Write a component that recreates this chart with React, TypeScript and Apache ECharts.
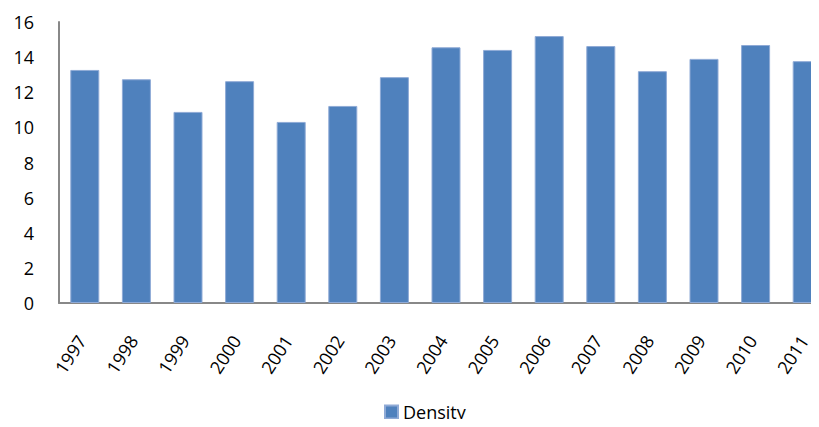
import React, { useEffect, useRef } from "react";
import * as echarts from "echarts";

const years = ["1997", "1998", "1999", "2000", "2001", "2002", "2003", "2004", "2005", "2006", "2007", "2008", "2009", "2010", "2011"];
const density = [13.27, 12.74, 10.88, 12.63, 10.31, 11.22, 12.86, 14.56, 14.41, 15.2, 14.63, 13.2, 13.9, 14.69, 13.77];
const seriesName = "Density";

const FONT = "'Open Sans', 'Noto Sans', sans-serif";

export default function App() {
  const ref = useRef<HTMLDivElement>(null);

  useEffect(() => {
    if (!ref.current) return;
    const chart = echarts.init(ref.current, undefined, { renderer: "svg" });
    chart.setOption({
      animation: false,
      backgroundColor: "#ffffff",
      // the plot runs a little past the right edge of the visible frame
      grid: { left: 59, top: 22, right: 7, bottom: 124, containLabel: false, outerBoundsMode: "none" },
      legend: {
        data: [seriesName],
        left: 384,
        top: 402,
        itemWidth: 13,
        itemHeight: 13,
        itemGap: 10,
        icon: "rect",
        padding: 0,
        textStyle: { fontFamily: FONT, fontSize: 18, color: "#000", lineHeight: 20 },
      },
      xAxis: {
        type: "category",
        data: years,
        axisLine: { lineStyle: { color: "#888888", width: 2 } },
        axisTick: { show: false },
        axisLabel: {
          rotate: 57,
          margin: 29,
          fontFamily: FONT,
          fontSize: 18,
          color: "#000",
          interval: 0,
          padding: [0, 6, 0, 0],
        },
      },
      yAxis: {
        type: "value",
        min: 0,
        max: 16,
        interval: 2,
        axisLine: { show: true, lineStyle: { color: "#888888", width: 2 } },
        axisTick: { show: false },
        splitLine: { show: false },
        axisLabel: { margin: 25, fontFamily: FONT, fontSize: 18, color: "#000" },
      },
      series: [
        {
          name: seriesName,
          type: "bar",
          data: density,
          barWidth: 29,
          itemStyle: { color: "#4F81BD", borderColor: "#8faad6", borderWidth: 1 },
        },
      ],
    });
    return () => chart.dispose();
  }, []);

  return (
    <div style={{ width: 819, height: 427, margin: -8, overflow: "hidden" }}>
      <div ref={ref} style={{ width: 840, height: 427 }} />
    </div>
  );
}
